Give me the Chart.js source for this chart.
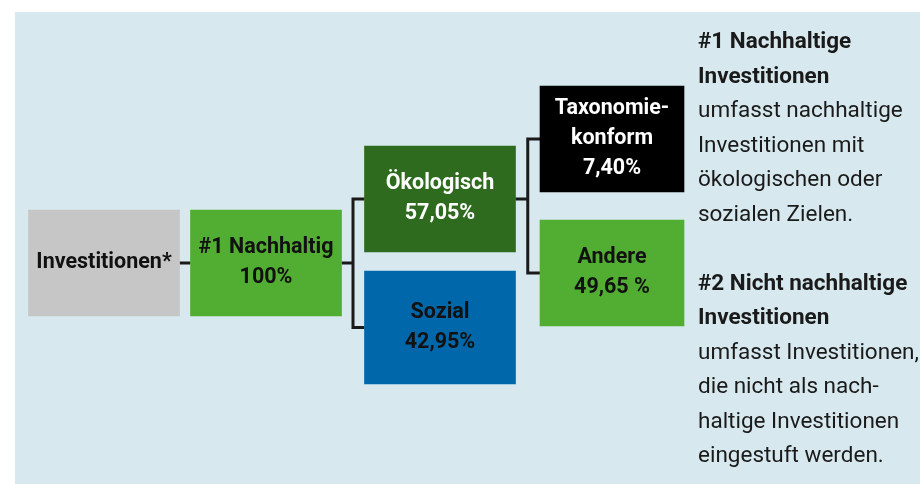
<!DOCTYPE html>
<html lang="de">
<head>
<meta charset="utf-8">
<script src="https://cdn.jsdelivr.net/npm/chart.js@4.4.1/dist/chart.umd.min.js"></script>
<style>
  html, body { margin: 0; padding: 0; background: #fff; }
  #wrap { position: relative; width: 920px; height: 484px; overflow: hidden; }
  #panel { position: absolute; left: 15px; top: 12px; right: 0; bottom: 0; background: #d7e9ee; }
  #c { position: absolute; left: 0; top: 0; }
  #note {
    position: absolute; left: 698px; top: 23px;
    font: 22.5px Roboto, sans-serif; line-height: 34.5px;
    color: #1a1a1a; white-space: nowrap;
  }
  #note b { font-weight: 700; }
</style>
</head>
<body>
<div id="wrap">
  <div id="panel"></div>
  <canvas id="c" width="920" height="484"></canvas>
  <div id="note">
    <b>#1 Nachhaltige</b><br>
    <b>Investitionen</b><br>
    umfasst nachhaltige<br>
    Investitionen mit<br>
    ökologischen oder<br>
    sozialen Zielen.<br>
    <br>
    <b>#2 Nicht nachhaltige</b><br>
    <b>Investitionen</b><br>
    umfasst Investitionen,<br>
    die nicht als nach-<br>
    haltige Investitionen<br>
    eingestuft werden.
  </div>
</div>
<script>
// data
const categories = ["Investitionen*", "#1 Nachhaltig", "Ökologisch", "Sozial", "Taxonomie-\nkonform", "Andere"];
const valueLabels = ["", "100%", "57,05%", "42,95%", "7,40%", "49,65 %"];
const parents = [null, 0, 1, 1, 2, 2];

// layout (px in the 920x484 frame)
const boxX = [104, 266, 440, 440, 612, 612];
const boxW = [151, 151, 151, 151, 144, 144];
const boxTop = [210, 210, 146, 271, 86, 220];
const boxBottom = [316, 316, 252, 384, 192, 326];
const fills = ["#c6c6c6", "#52ae32", "#2f6b1e", "#0068aa", "#000000", "#52ae32"];
const inks = ["#111111", "#111111", "#ffffff", "#111111", "#ffffff", "#111111"];

const mid = (i) => (boxTop[i] + boxBottom[i]) / 2;

// connector lines, broken with null points
const links = [];
const gap = (x) => links.push({ x: x, y: null });
categories.forEach((c, p) => {
  const kids = parents.map((q, i) => (q === p ? i : -1)).filter((i) => i >= 0);
  if (!kids.length) return;
  const px = boxX[p] + boxW[p] / 2;
  const cx = boxX[kids[0]] - boxW[kids[0]] / 2;
  if (kids.length === 1) {
    links.push({ x: px, y: mid(p) }, { x: cx, y: mid(p) });
    gap(cx);
    return;
  }
  const mx = (px + cx) / 2;
  const first = kids[0], last = kids[kids.length - 1];
  links.push({ x: px, y: mid(p) }, { x: mx, y: mid(p) });
  gap(mx);
  links.push({ x: cx, y: mid(first) }, { x: mx, y: mid(first) }, { x: mx, y: mid(last) }, { x: cx, y: mid(last) });
  gap(cx);
});

const idxA = [0, 1, 2, 3];
const idxB = [4, 5];
const boxData = (idx) => idx.map((i) => ({ x: boxX[i], y: [boxTop[i], boxBottom[i]], k: i }));

const boxLabels = {
  id: "boxLabels",
  afterDatasetsDraw(chart) {
    const ctx = chart.ctx;
    ctx.save();
    ctx.textAlign = "center";
    ctx.textBaseline = "middle";
    ctx.font = "bold 21.5px Roboto, sans-serif";
    chart.data.datasets.forEach((ds, d) => {
      if (ds.type !== "bar") return;
      chart.getDatasetMeta(d).data.forEach((el, j) => {
        const k = ds.data[j].k;
        const lines = categories[k].split("\n");
        if (valueLabels[k]) lines.push(valueLabels[k]);
        const cy = (el.y + el.base) / 2;
        const step = 30;
        ctx.fillStyle = inks[k];
        lines.forEach((t, n) => {
          ctx.fillText(t, el.x, cy + (n - (lines.length - 1) / 2) * step);
        });
      });
    });
    ctx.restore();
  },
};

new Chart(document.getElementById("c"), {
  type: "bar",
  data: {
    datasets: [
      {
        type: "bar",
        data: boxData(idxA),
        backgroundColor: idxA.map((i) => fills[i]),
        barThickness: 151,
        grouped: false,
      },
      {
        type: "bar",
        data: boxData(idxB),
        backgroundColor: idxB.map((i) => fills[i]),
        barThickness: 144,
        grouped: false,
      },
      {
        type: "line",
        data: links,
        borderColor: "#1a1a1a",
        borderWidth: 3,
        pointRadius: 0,
        spanGaps: false,
        tension: 0,
      },
    ],
  },
  options: {
    responsive: false,
    animation: false,
    layout: { padding: 0 },
    plugins: { legend: { display: false }, tooltip: { enabled: false } },
    scales: {
      x: { type: "linear", min: 0, max: 920, offset: false, display: false },
      y: { type: "linear", min: 0, max: 484, reverse: true, display: false },
    },
  },
  plugins: [boxLabels],
});
</script>
</body>
</html>
